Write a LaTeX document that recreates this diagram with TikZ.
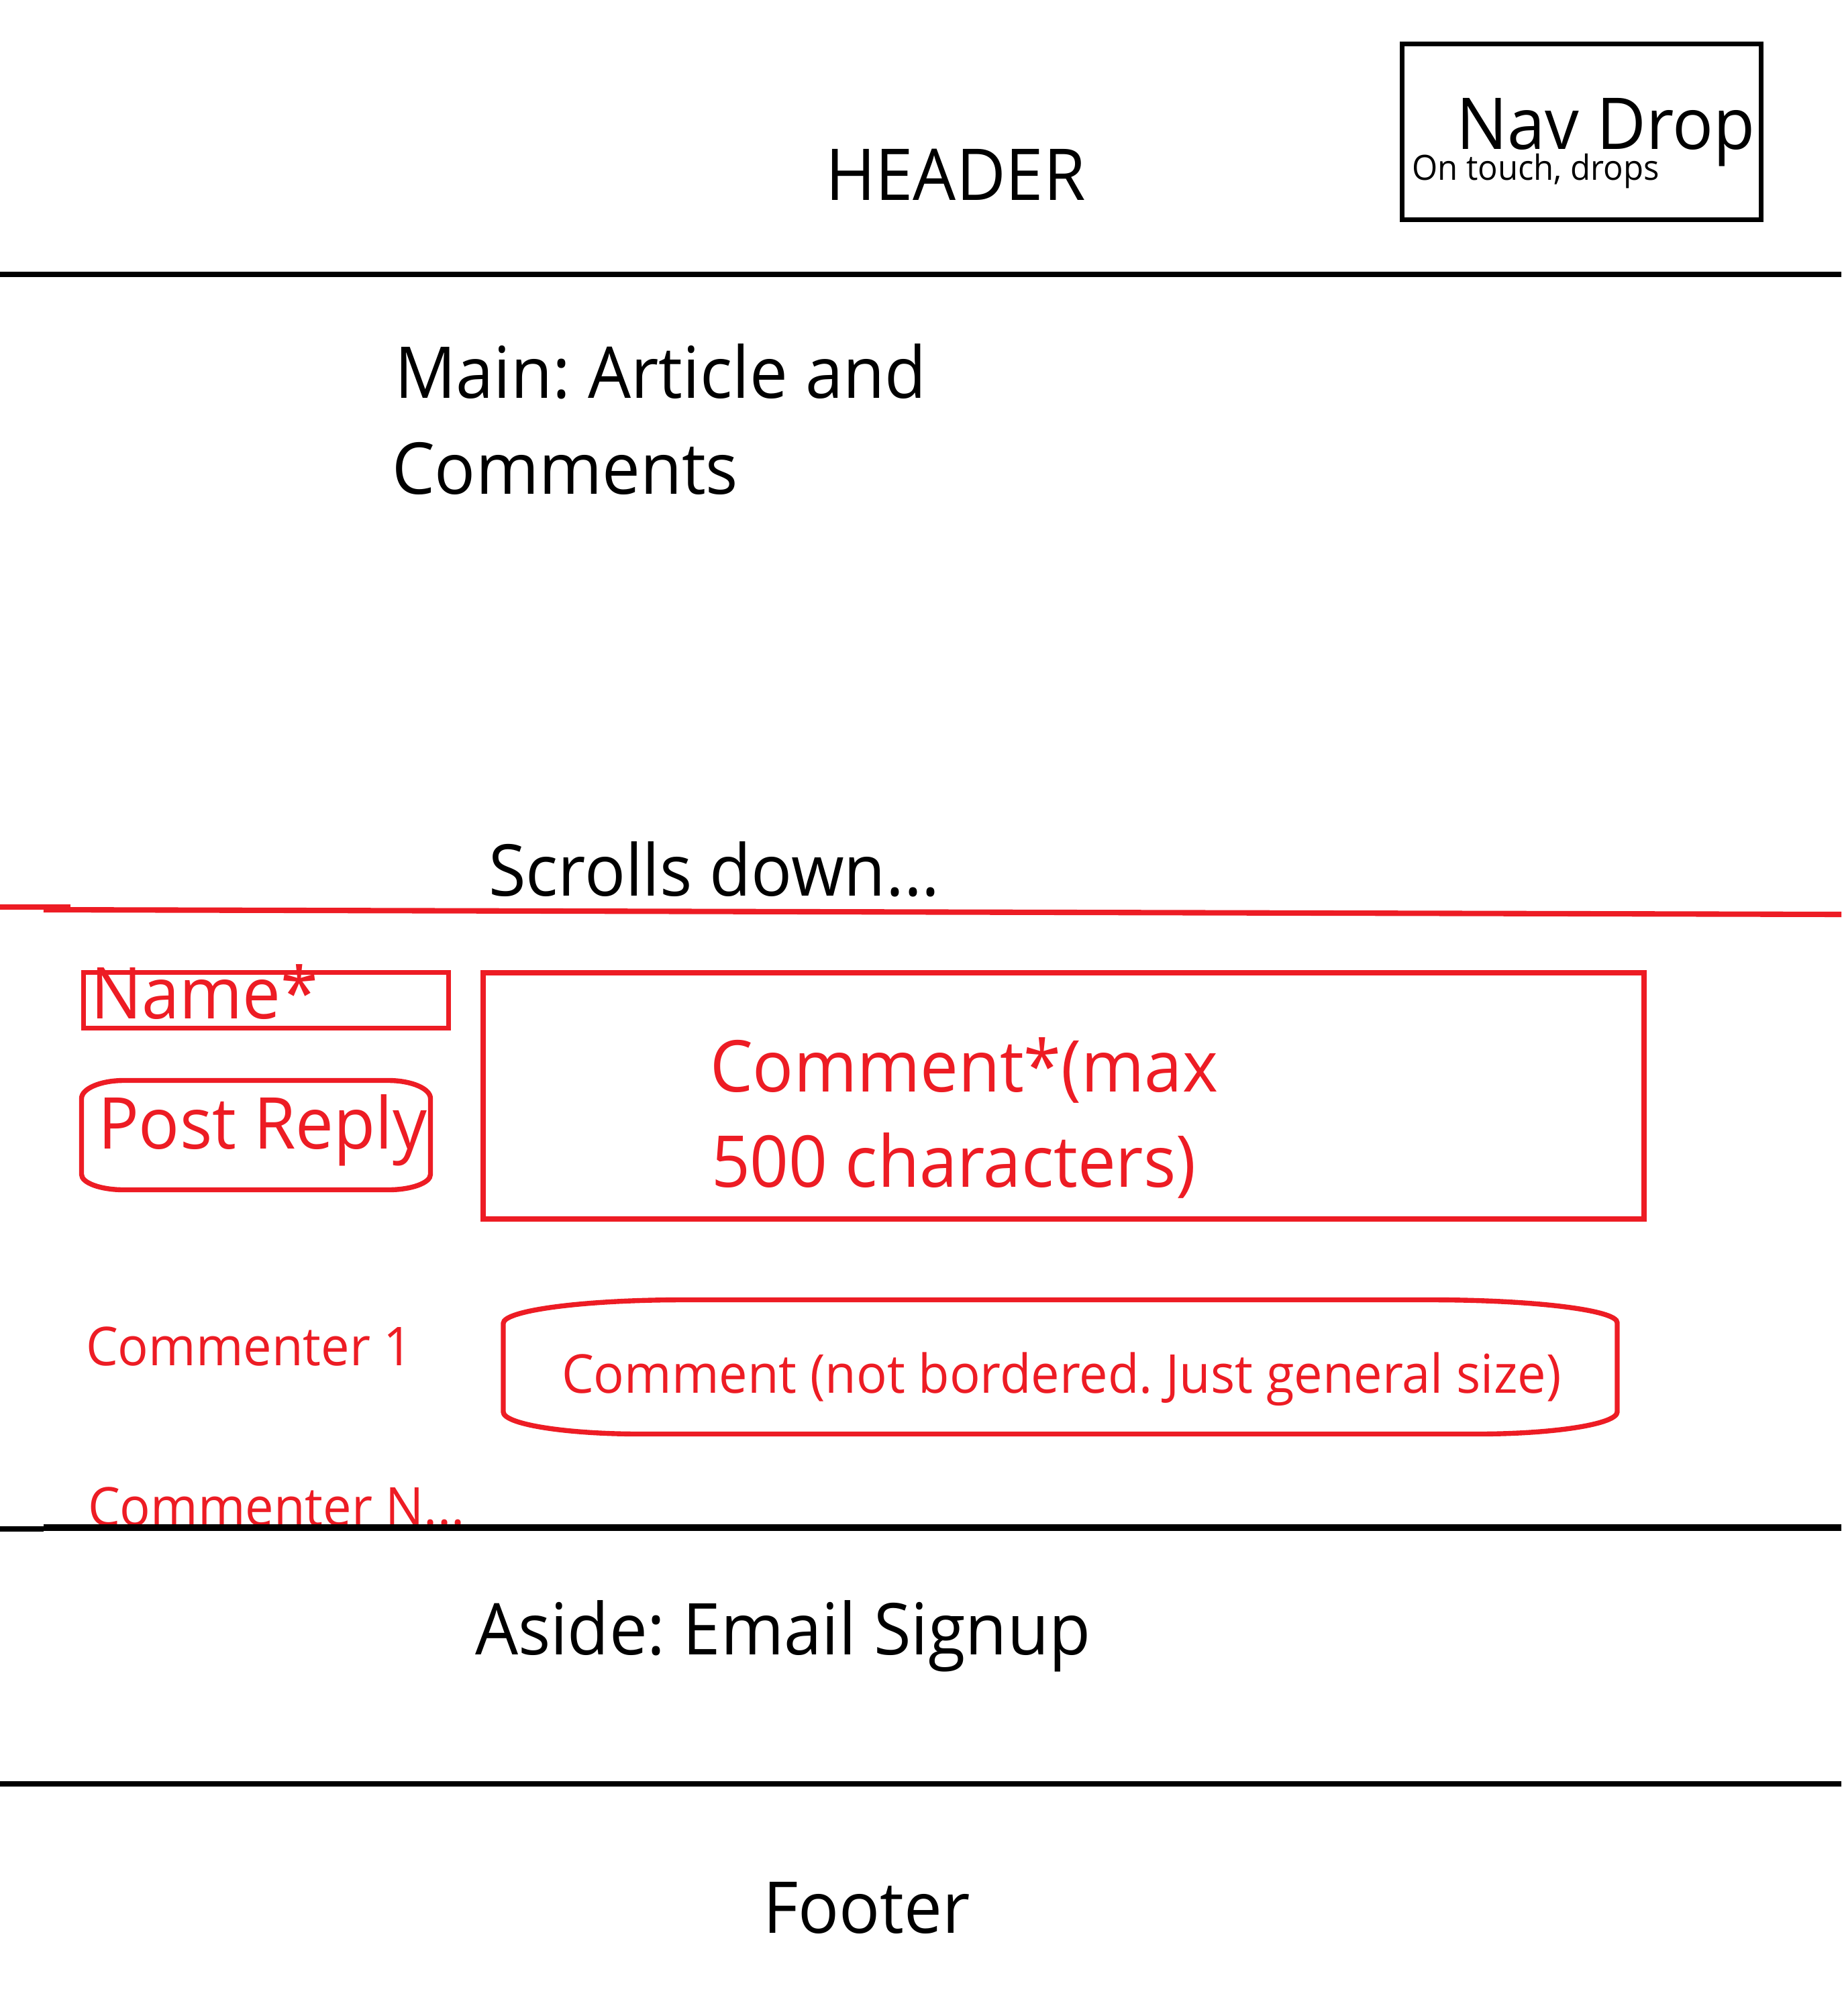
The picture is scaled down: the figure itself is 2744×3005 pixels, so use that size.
\documentclass[tikz,border=0pt]{standalone}
\usepackage{fontspec}
\setmainfont[FakeStretch=0.95]{Open Sans}
\definecolor{wfred}{HTML}{ED1C24}
\newcommand\fsBig{\fontsize{30.3pt}{40.7pt}\selectfont}
\newcommand\fsMid{\fontsize{22.7pt}{30pt}\selectfont}
\newcommand\fsSmall{\fontsize{14.7pt}{18pt}\selectfont}
\frenchspacing

\begin{document}
\begin{tikzpicture}[x=0.01cm, y=-0.01cm,
  lbl/.style={anchor=base west, inner sep=0pt, outer sep=0pt},
  bigtext/.style={lbl, font=\fsBig},
  midtext/.style={lbl, font=\fsMid},
  smalltext/.style={lbl, font=\fsSmall},
  rule/.style={line width=2.3pt, black},
  redrule/.style={line width=2.3pt, wfred},
  blackbox/.style={line width=2pt, black},
  redbox/.style={line width=2.1pt, wfred},
]
\useasboundingbox[fill=white] (0,0) rectangle (2744,3005);

% ---- header band ----
\node[bigtext] (header) at (1230,298) {HEADER};
\draw[blackbox] (2089.5,65.5) rectangle (2624.5,327.5);
\node[bigtext] (navdrop) at (2170,222) {Nav Drop};
\node[smalltext] (ontouch) at (2104,268) {On touch, drops};
\draw[rule] (0,409) -- (2744,409);

% ---- main band ----
\node[bigtext] (main1) at (588,593) {Main: Article and};
\node[bigtext] (main2) at (584,736) {Comments};
\node[bigtext] (scrolls) at (728,1335) {Scrolls down...};

% ---- comment area (red) ----
\draw[redrule] (0,1352) -- (105,1352);
\draw[redrule] (65,1356) -- (2744,1363);

\draw[redbox] (124.5,1449.5) rectangle (668.5,1532.5);
\node[bigtext, text=wfred] (name) at (135,1518) {Name*};

\draw[redbox] (184.5,1610.5) -- (578.5,1610.5)
  .. controls (613.3,1610.5) and (641.5,1622.6) .. (641.5,1637.5)
  -- (641.5,1750.5)
  .. controls (641.5,1763.2) and (613.3,1773.5) .. (578.5,1773.5)
  -- (184.5,1773.5)
  .. controls (149.7,1773.5) and (121.5,1763.2) .. (121.5,1750.5)
  -- (121.5,1637.5)
  .. controls (121.5,1622.6) and (149.7,1610.5) .. cycle;
\node[bigtext, text=wfred] (postreply) at (146,1712) {Post Reply};

\draw[redbox] (720,1450) rectangle (2450,1817);
\node[bigtext, text=wfred] (comment1) at (1058,1627) {Comment*(max};
\node[bigtext, text=wfred] (comment2) at (1060,1769) {500 characters)};

\node[midtext, text=wfred] (commenter1) at (128,2035) {Commenter 1};

\draw[redbox] (1018,1937.5) -- (2132,1937.5)
  .. controls (2285.5,1937.5) and (2410,1952.7) .. (2410,1971.5)
  -- (2410,2104.5)
  .. controls (2410,2122.7) and (2316.4,2137.5) .. (2201,2137.5)
  -- (954,2137.5)
  .. controls (841.4,2137.5) and (750,2122.7) .. (750,2104.5)
  -- (750,1972.5)
  .. controls (750,1953.2) and (870.1,1937.5) .. cycle;
\node[midtext, text=wfred] (commentgen) at (837,2076) {Comment (not bordered. Just general size)};

\node[midtext, text=wfred] (commentern) at (131,2274) {Commenter N...};

% ---- aside band ----
\draw[line width=2.3pt, black] (0,2279) -- (65,2279);
\draw[line width=2.9pt, black] (65,2277) -- (2744,2277);
\node[bigtext] (aside) at (708,2466) {Aside: Email Signup};
\draw[rule] (0,2659) -- (2744,2659);

% ---- footer band ----
\node[bigtext] (footer) at (1137,2881) {Footer};
\end{tikzpicture}
\end{document}
